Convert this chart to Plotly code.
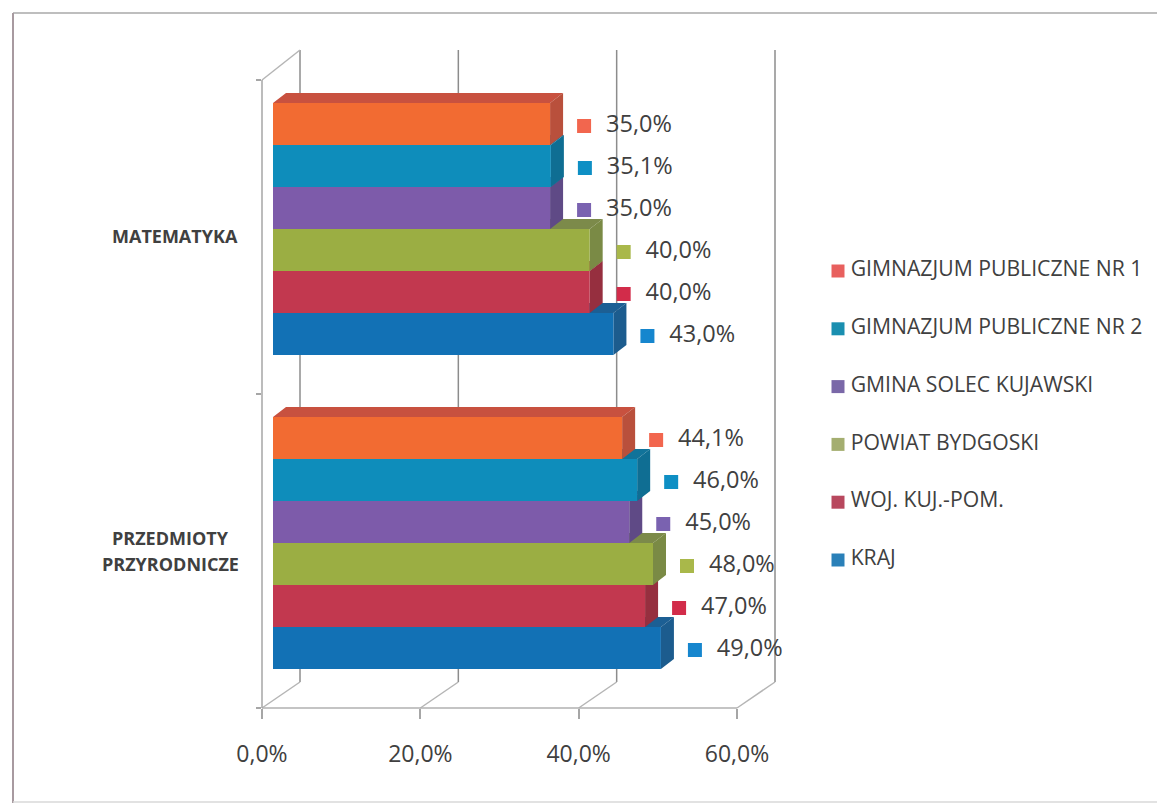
import plotly.graph_objects as go

CATEGORIES = [["PRZEDMIOTY", "PRZYRODNICZE"], ["MATEMATYKA"]]
SERIES = ["KRAJ", "WOJ. KUJ.-POM.", "POWIAT BYDGOSKI", "GMINA SOLEC KUJAWSKI",
          "GIMNAZJUM PUBLICZNE NR 2", "GIMNAZJUM PUBLICZNE NR 1"]
KRAJ = [49.0, 43.0]
WOJ = [47.0, 40.0]
POWIAT = [48.0, 40.0]
GMINA = [45.0, 35.0]
GIM2 = [46.0, 35.1]
GIM1 = [44.1, 35.0]
VALUES = [KRAJ, WOJ, POWIAT, GMINA, GIM2, GIM1]
TICK_VALUES = [0, 20, 40, 60]
TICK_LABELS = ["0,0%", "20,0%", "40,0%", "60,0%"]

FRONT = ["#1271B5", "#C2384F", "#9BAE43", "#7D5BAA", "#0E8DBB", "#F26B32"]
TOP = ["#1C5F94", "#A0323F", "#7C8A4A", "#634C8E", "#11739A", "#C8513F"]
SIDE = ["#1C5C8E", "#962F3F", "#7A8A45", "#5F4A86", "#0F6E93", "#B9503C"]
MARK = ["#1686CE", "#D22C4A", "#A9B84A", "#7A62B0", "#0E8FC4", "#F2664E"]
LEG = ["#2A80B8", "#B8485E", "#A4AE70", "#7A68A8", "#1A8FB0", "#E8605E"]

W, H = 1157, 807
X0, X60, Y0, YT = 262, 737, 708, 80
PX = (X60 - X0) / 60
PY = (Y0 - YT) / 2
BAR_H = 42 / PY
SHIFT_X, SHIFT_Y = 11 / PX, 8 / PY
DEPTH_X, DEPTH_Y = 13 / PX, 10 / PY
WALL_PX, WALL_PY = 38, 26
WALL_TOP = 50
TXT = "#404040"
FONT = "Open Sans"
GRID = "#a6a6a6"

fig = go.Figure()
for i, (name, vals) in enumerate(zip(SERIES, VALUES)):
    ys = [c + 0.5 + (i - 2.5) * BAR_H + SHIFT_Y for c in range(len(vals))]
    tx, ty, sx, sy = [], [], [], []
    for v, y in zip(vals, ys):
        l, r, b, t = SHIFT_X, v + SHIFT_X, y - BAR_H / 2, y + BAR_H / 2
        tx += [l, r, r + DEPTH_X, l + DEPTH_X, l, None]
        ty += [t, t, t + DEPTH_Y, t + DEPTH_Y, t, None]
        sx += [r, r + DEPTH_X, r + DEPTH_X, r, r, None]
        sy += [b, b + DEPTH_Y, t + DEPTH_Y, t, b, None]
    for fx, fy, col in ((tx, ty, TOP[i]), (sx, sy, SIDE[i])):
        fig.add_trace(go.Scatter(x=fx, y=fy, mode="lines", fill="toself", fillcolor=col,
                                 line=dict(width=0, color=col), hoverinfo="skip",
                                 showlegend=False, zorder=2 * i + 1, xaxis="x", yaxis="y"))
    fig.add_trace(go.Bar(x=vals, y=ys, base=SHIFT_X, orientation="h", width=BAR_H,
                         marker=dict(color=FRONT[i], line=dict(width=0)), name=name,
                         showlegend=False, zorder=2 * i + 2, xaxis="x", yaxis="y"))
    lab_x = [v + SHIFT_X + 34 / PX for v in vals]
    lab_y = [y - 2 / PY for y in ys]
    fig.add_trace(go.Scatter(x=lab_x, y=lab_y, mode="markers+text", cliponaxis=False,
                             marker=dict(symbol="square", size=14, color=MARK[i]),
                             text=["&nbsp;&nbsp;" + f"{v:.1f}".replace(".", ",") + "%" for v in vals],
                             textposition="middle right",
                             textfont=dict(family=FONT, size=23.5, color=TXT),
                             showlegend=False, xaxis="x", yaxis="y"))
    ly = 271 + 57.8 * (len(SERIES) - 1 - i)
    fig.add_trace(go.Scatter(x=[838], y=[ly], mode="markers+text", cliponaxis=False,
                             marker=dict(symbol="square", size=13, color=LEG[i]),
                             text=["\u2009" + name], textposition="middle right",
                             textfont=dict(family=FONT, size=21.2, color=TXT),
                             showlegend=False, xaxis="x2", yaxis="y2"))

shapes = []
def line(x0, y0, x1, y1, color=GRID, width=1.5):
    shapes.append(dict(type="line", x0=x0 / W, y0=1 - y0 / H, x1=x1 / W, y1=1 - y1 / H,
                       xref="paper", yref="paper", layer="below",
                       line=dict(color=color, width=width)))

for t in TICK_VALUES:
    px = X0 + t * PX
    line(px + WALL_PX, Y0 - WALL_PY, px + WALL_PX, WALL_TOP, "#8c8c8c", 1.5)
    line(px, Y0, px + WALL_PX, Y0 - WALL_PY, "#b5b5b5", 1.5)
line(X0, YT, X0 + WALL_PX, WALL_TOP, "#b5b5b5", 1.5)
# front axis lines
line(X0, Y0, X60, Y0, "#b0b0b0", 1.5)
line(X0, Y0, X0, YT, "#a6a6a6", 1.5)
# scanned page frame
line(13, 13, W, 13, "#a8a8a8", 1.5)
line(13, 13, 13, 803, "#a89aa0", 2)
line(13, 802, W, 802, "#d8d8d8", 1.5)

ANNOT = [(CATEGORIES[1][0], 175, 236), (CATEGORIES[0][0], 170, 538), (CATEGORIES[0][1], 170, 564)]
annotations = [
    dict(text=f"<b>{txt}</b>", x=x, y=y, xref="x2", yref="y2", xanchor="center",
         yanchor="middle", showarrow=False, font=dict(family=FONT, size=18, color=TXT))
    for txt, x, y in ANNOT
]

fig.update_layout(
    width=W, height=H, autosize=False, margin=dict(l=0, r=0, t=0, b=0, autoexpand=False),
    paper_bgcolor="white", plot_bgcolor="rgba(0,0,0,0)", barmode="overlay",
    showlegend=False, shapes=shapes, annotations=annotations,
    xaxis=dict(domain=[X0 / W, X60 / W], range=[0, 60], tickvals=TICK_VALUES,
               ticktext=TICK_LABELS, ticks="outside", ticklen=10, tickcolor=GRID,
               tickwidth=1.5, showline=False, showgrid=False,
               zeroline=False, tickfont=dict(family=FONT, size=23, color=TXT),
               ticklabelstandoff=15, anchor="y", automargin=False),
    yaxis=dict(domain=[1 - Y0 / H, 1 - YT / H], range=[0, 2], tickvals=[0, 1, 2],
               showticklabels=False, ticks="outside", ticklen=5, tickcolor=GRID, tickwidth=1.5,
               showline=False, showgrid=False, zeroline=False,
               anchor="x", automargin=False),
    xaxis2=dict(domain=[0, 1], range=[0, W], visible=False, anchor="y2", automargin=False),
    yaxis2=dict(domain=[0, 1], range=[H, 0], visible=False, anchor="x2", automargin=False),
)
fig.write_html("out.html", post_script="document.body.style.margin='0';",
               config={"displayModeBar": False})
